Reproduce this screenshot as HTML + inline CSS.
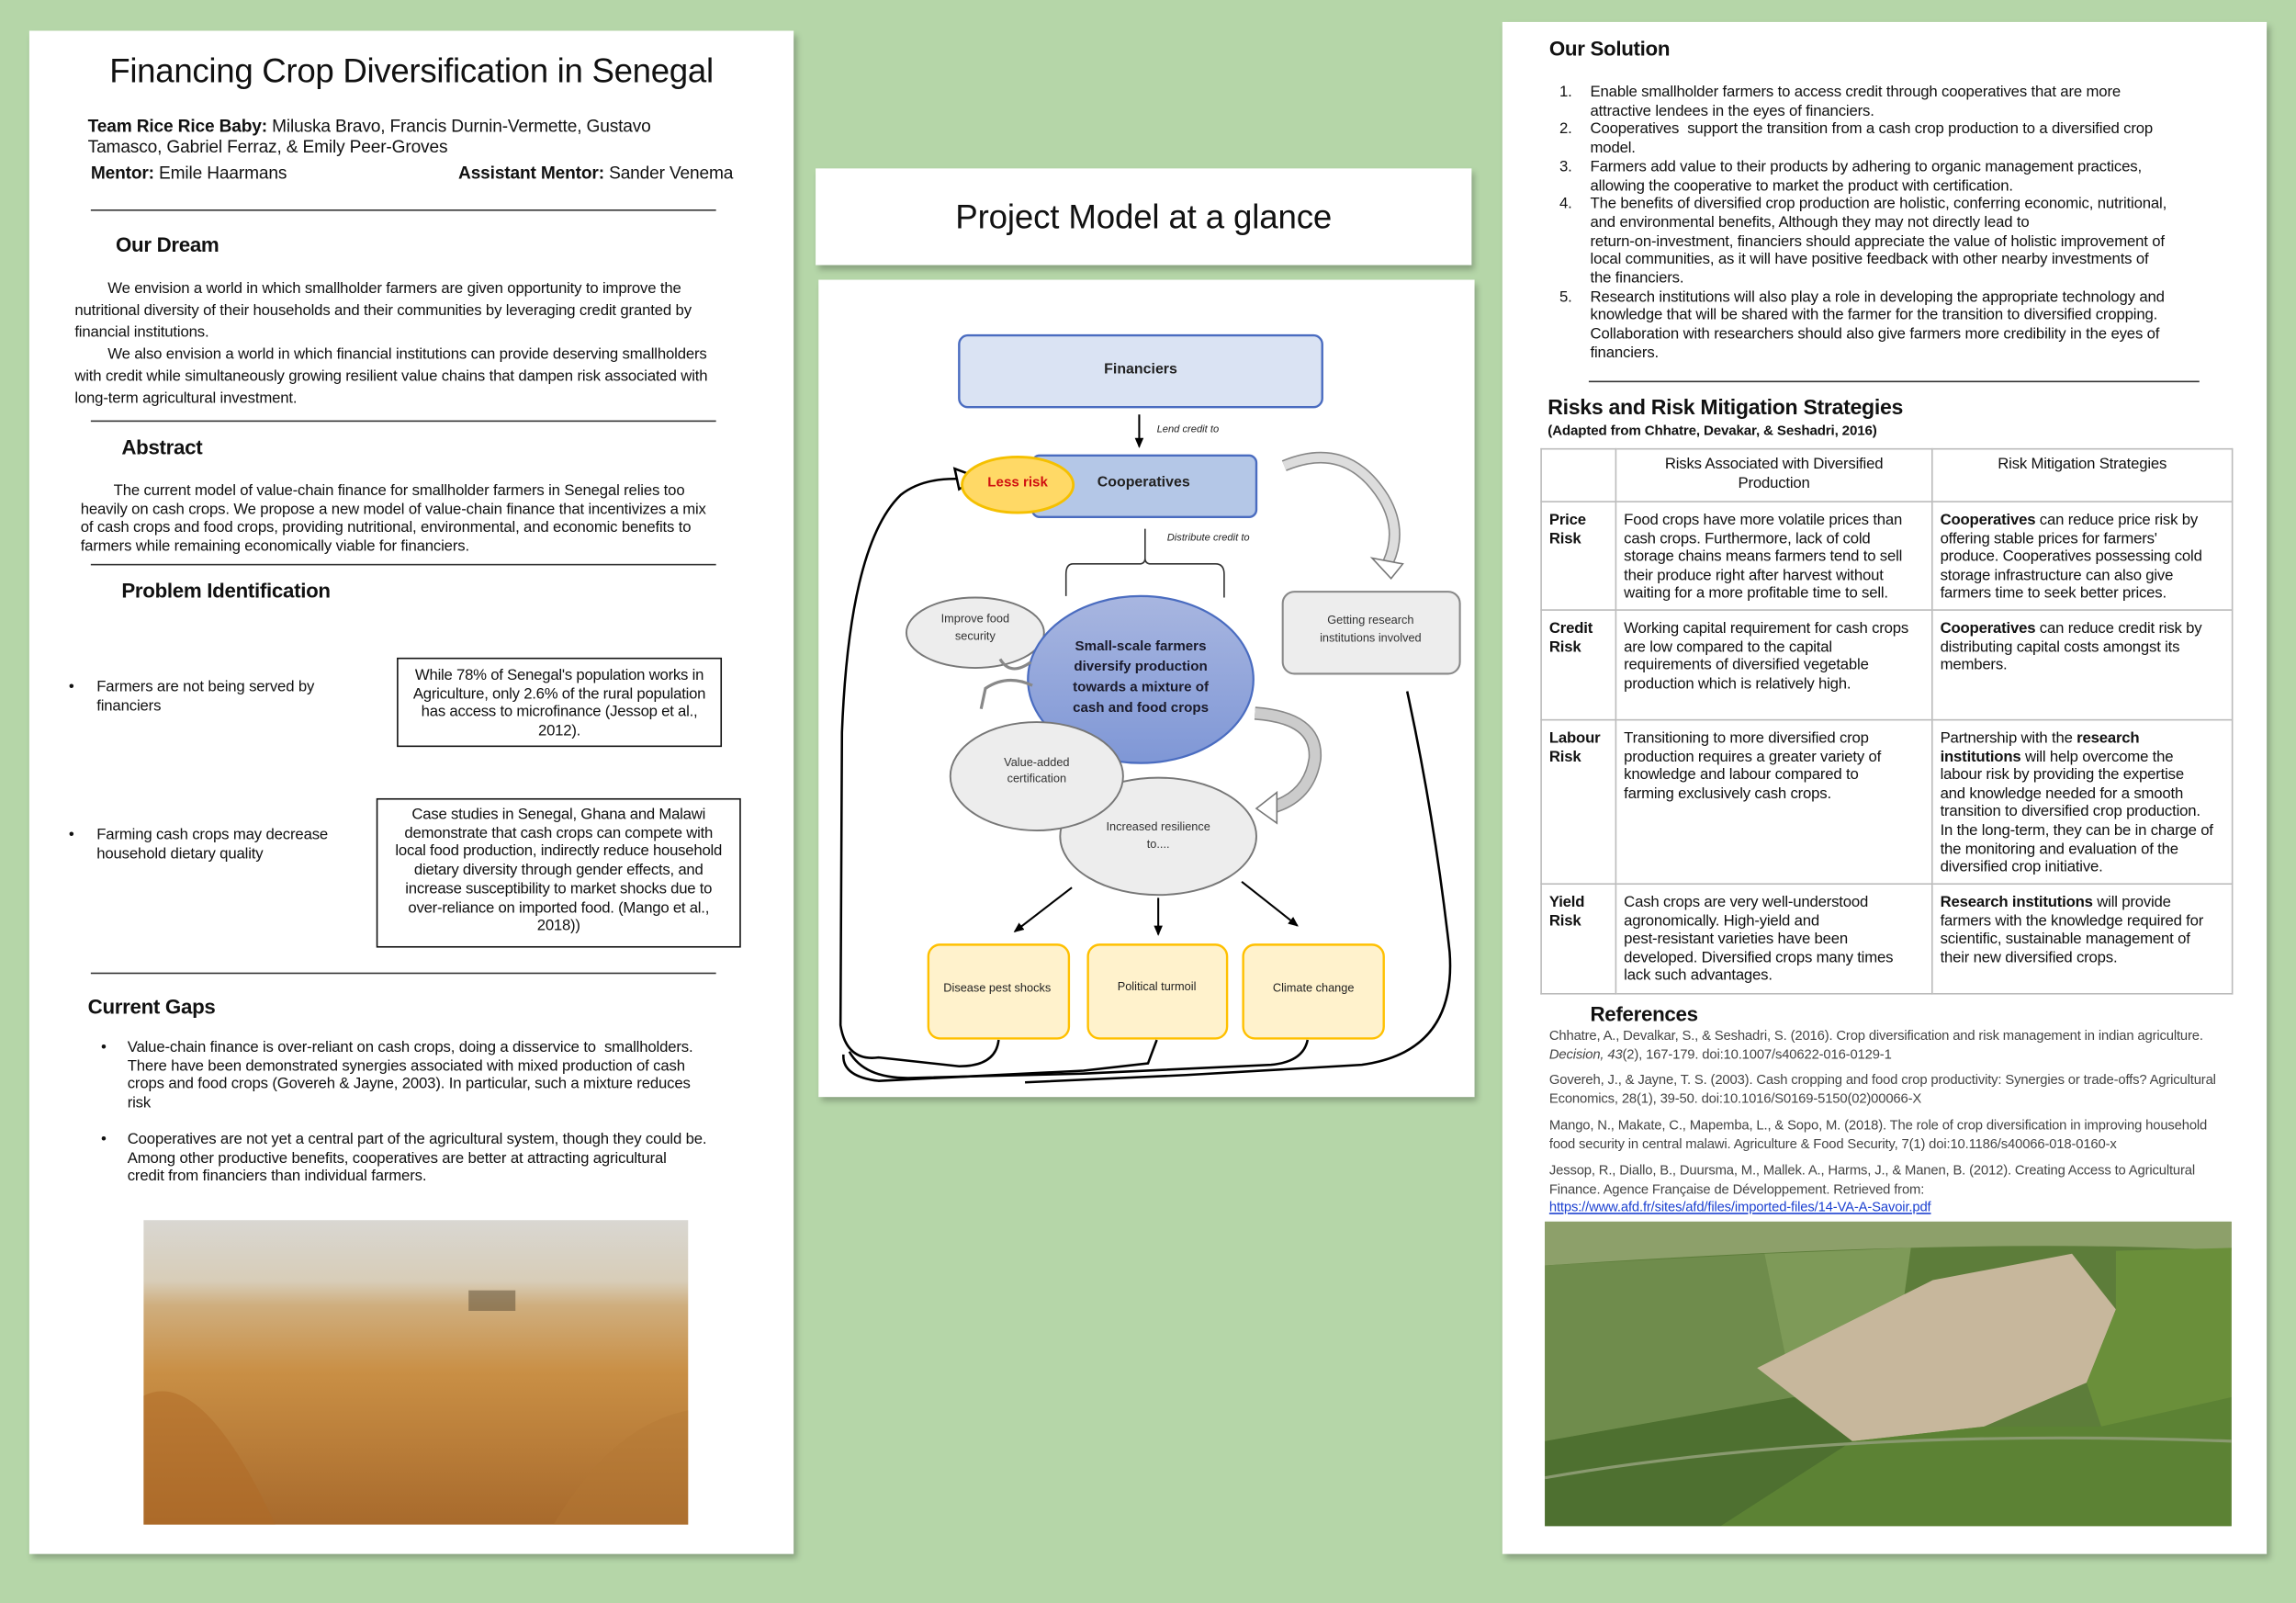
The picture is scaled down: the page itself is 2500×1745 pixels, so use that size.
<!DOCTYPE html>
<html><head><meta charset="utf-8"><style>
html,body{margin:0;padding:0;width:2500px;height:1745px;overflow:hidden;background:#b5d6a8}
#s{position:absolute;left:0;top:0;width:1568px;height:1094px;transform:scale(1.59439);transform-origin:0 0;font-family:"Liberation Sans",sans-serif;color:#111}
.p{position:absolute;background:#fff;box-shadow:2px 3px 4px rgba(0,0,0,.25)}
.t{position:absolute;white-space:nowrap;font-size:10.5px;letter-spacing:-0.1px;line-height:12.7px}
.h{position:absolute;white-space:nowrap;font-weight:bold;font-size:14px;letter-spacing:-0.2px}
.hr{position:absolute;height:1px;background:#333}
.box{position:absolute;border:1.3px solid #111;text-align:center;white-space:nowrap;font-size:10.5px;letter-spacing:-0.15px;line-height:12.7px;box-sizing:border-box}
table{position:absolute;border-collapse:collapse;font-size:10.5px;letter-spacing:-0.12px;line-height:12.6px;table-layout:fixed}
td{border:1px solid #bbb;vertical-align:top;padding:6px 5px 0 5px;white-space:nowrap;overflow:hidden;box-sizing:border-box}
.r{position:absolute;white-space:nowrap;font-size:9.3px;letter-spacing:-0.1px;line-height:12.5px;color:#444}
</style></head><body><div id="s">

<div class="p" style="left:20px;top:21px;width:522px;height:1040px"></div>
<div class="p" style="left:557px;top:115px;width:448px;height:66px"></div>
<div class="p" style="left:559px;top:191px;width:448px;height:558px"></div>
<div class="p" style="left:1026px;top:15px;width:522px;height:1046px"></div>

<!-- LEFT -->
<div style="position:absolute;left:20px;width:522px;top:35px;text-align:center;font-size:23px;letter-spacing:-0.2px">Financing Crop Diversification in Senegal</div>
<div class="t" style="left:60px;top:79px;font-size:12px;line-height:14px"><b>Team Rice Rice Baby:</b> Miluska Bravo, Francis Durnin-Vermette, Gustavo<br>Tamasco, Gabriel Ferraz, &amp; Emily Peer-Groves</div>
<div class="t" style="left:62px;top:112px;font-size:12px"><b>Mentor:</b> Emile Haarmans</div>
<div class="t" style="left:313px;top:112px;font-size:12px"><b>Assistant Mentor:</b> Sander Venema</div>
<div class="hr" style="left:62px;top:143px;width:427px"></div>
<div class="h" style="left:79px;top:159px">Our Dream</div>
<div class="t" style="left:51px;top:190px;line-height:15px">&nbsp;&nbsp;&nbsp;&nbsp;&nbsp;&nbsp;&nbsp;&nbsp;We envision a world in which smallholder farmers are given opportunity to improve the<br>nutritional diversity of their households and their communities by leveraging credit granted by<br>financial institutions.<br>&nbsp;&nbsp;&nbsp;&nbsp;&nbsp;&nbsp;&nbsp;&nbsp;We also envision a world in which financial institutions can provide deserving smallholders<br>with credit while simultaneously growing resilient value chains that dampen risk associated with<br>long-term agricultural investment.</div>
<div class="hr" style="left:62px;top:287px;width:427px"></div>
<div class="h" style="left:83px;top:297px">Abstract</div>
<div class="t" style="left:55px;top:329px">&nbsp;&nbsp;&nbsp;&nbsp;&nbsp;&nbsp;&nbsp;&nbsp;The current model of value-chain finance for smallholder farmers in Senegal relies too<br>heavily on cash crops. We propose a new model of value-chain finance that incentivizes a mix<br>of cash crops and food crops, providing nutritional, environmental, and economic benefits to<br>farmers while remaining economically viable for financiers.</div>
<div class="hr" style="left:62px;top:385px;width:427px"></div>
<div class="h" style="left:83px;top:395px">Problem Identification</div>
<div class="t" style="left:47px;top:463px">•</div>
<div class="t" style="left:66px;top:463px">Farmers are not being served by<br>financiers</div>
<div class="box" style="left:271px;top:449px;width:222px;height:61px;padding-top:5px">While 78% of Senegal's population works in<br>Agriculture, only 2.6% of the rural population<br>has access to microfinance (Jessop et al.,<br>2012).</div>
<div class="t" style="left:47px;top:564px">•</div>
<div class="t" style="left:66px;top:564px">Farming cash crops may decrease<br>household dietary quality</div>
<div class="box" style="left:257px;top:545px;width:249px;height:102px;padding-top:4px">Case studies in Senegal, Ghana and Malawi<br>demonstrate that cash crops can compete with<br>local food production, indirectly reduce household<br>dietary diversity through gender effects, and<br>increase susceptibility to market shocks due to<br>over-reliance on imported food. (Mango et al.,<br>2018))</div>
<div class="hr" style="left:62px;top:664px;width:427px"></div>
<div class="h" style="left:60px;top:679px">Current Gaps</div>
<div class="t" style="left:69px;top:709px">•</div>
<div class="t" style="left:87px;top:709px">Value-chain finance is over-reliant on cash crops, doing a disservice to&nbsp; smallholders.<br>There have been demonstrated synergies associated with mixed production of cash<br>crops and food crops (Govereh &amp; Jayne, 2003). In particular, such a mixture reduces<br>risk</div>
<div class="t" style="left:69px;top:772px">•</div>
<div class="t" style="left:87px;top:772px">Cooperatives are not yet a central part of the agricultural system, though they could be.<br>Among other productive benefits, cooperatives are better at attracting agricultural<br>credit from financiers than individual farmers.</div>
<svg style="position:absolute;left:98px;top:833px" width="372" height="208">
<defs><linearGradient id="w" x1="0" y1="0" x2="0" y2="1"><stop offset="0" stop-color="#d9d7d2"/><stop offset=".2" stop-color="#d8cdb8"/><stop offset=".28" stop-color="#cfae7e"/><stop offset=".5" stop-color="#c98f45"/><stop offset="1" stop-color="#a86a2c"/></linearGradient></defs>
<rect width="372" height="208" fill="url(#w)"/>
<rect x="222" y="48" width="32" height="14" fill="#6a5a40" opacity=".6"/>
<path d="M0 120 Q40 100 90 208 L0 208Z" fill="#b06a25" opacity=".5"/>
<path d="M280 208 Q320 140 372 130 L372 208Z" fill="#b57735" opacity=".4"/>
</svg>

<!-- MIDDLE -->
<div style="position:absolute;left:557px;width:448px;top:135px;text-align:center;font-size:23px;letter-spacing:-0.1px">Project Model at a glance</div>
<svg style="position:absolute;left:0;top:0" width="1568" height="1094" font-family="Liberation Sans, sans-serif">
<defs>
<linearGradient id="bg" x1="0" y1="0" x2="0" y2="1"><stop offset="0" stop-color="#a8b6e0"/><stop offset="1" stop-color="#7f97d6"/></linearGradient>
<marker id="ah" markerWidth="8" markerHeight="8" refX="6" refY="4" orient="auto" markerUnits="userSpaceOnUse"><path d="M0,1 L7,4 L0,7Z" fill="#000"/></marker>
</defs>
<path d="M682 710 Q680 728 655 728 L600 722 Q578 725 574 700 L575 500 Q580 372 615 338 Q630 326 656 327" fill="none" stroke="#000" stroke-width="1.6"/>
<path d="M790 710 L784 726 L740 731 L600 738 Q575 735 576 720" fill="none" stroke="#000" stroke-width="1.6"/>
<path d="M893 710 Q890 725 868 727 L740 733 L620 736 Q590 736 580 718" fill="none" stroke="#000" stroke-width="1.6"/>
<path d="M961 472 Q980 560 990 650 Q995 718 930 727 L810 734 L700 739" fill="none" stroke="#000" stroke-width="1.6"/>
<path d="M652 320 L668 326 L655 334 Z" fill="#fff" stroke="#000" stroke-width="1.6"/>
<rect x="655" y="229" width="248" height="49" rx="6" fill="#dae3f3" stroke="#4a6cc0" stroke-width="1.5"/>
<text x="779" y="255" font-size="10" font-weight="bold" text-anchor="middle" fill="#222">Financiers</text>
<line x1="778" y1="283" x2="778" y2="305" stroke="#000" stroke-width="1.3" marker-end="url(#ah)"/>
<text x="790" y="295" font-size="7" font-style="italic" fill="#222">Lend credit to</text>
<rect x="705" y="311" width="153" height="42" rx="5" fill="#b4c7e7" stroke="#4a6cc0" stroke-width="1.5"/>
<text x="781" y="332" font-size="10" font-weight="bold" text-anchor="middle" fill="#222">Cooperatives</text>
<ellipse cx="695" cy="331" rx="38" ry="19" fill="#ffd966" stroke="#f5c000" stroke-width="1.8"/>
<text x="695" y="332" font-size="9.5" font-weight="bold" text-anchor="middle" fill="#d01010">Less risk</text>
<text x="797" y="369" font-size="7" font-style="italic" fill="#222">Distribute credit to</text>
<path d="M782 361 L782 381 Q782 385 778 385 L733 385 Q728 385 728 392 L728 407 M782 381 Q782 385 786 385 L830 385 Q836 385 836 392 L836 408" fill="none" stroke="#333" stroke-width="1"/>
<path d="M877 318 Q920 300 945 340 Q958 362 948 384" fill="none" stroke="#888" stroke-width="8"/>
<path d="M877 318 Q920 300 945 340 Q958 362 948 384" fill="none" stroke="#ddd" stroke-width="6"/>
<path d="M937 381 L950 395 L958 385 Z" fill="#fff" stroke="#777"/>
<rect x="876" y="404" width="121" height="56" rx="8" fill="#ededed" stroke="#888" stroke-width="1.3"/>
<text x="936" y="426" font-size="8" text-anchor="middle" fill="#333">Getting research</text>
<text x="936" y="438" font-size="8" text-anchor="middle" fill="#333">institutions involved</text>
<ellipse cx="666" cy="432" rx="47" ry="24" fill="#ededed" stroke="#777" stroke-width="1.2"/>
<text x="666" y="425" font-size="8" text-anchor="middle" fill="#333">Improve food</text>
<text x="666" y="437" font-size="8" text-anchor="middle" fill="#333">security</text>
<ellipse cx="779" cy="464" rx="77" ry="57" fill="url(#bg)" stroke="#4a6cc0" stroke-width="1.4"/>
<text x="779" y="444" font-size="9.5" font-weight="bold" text-anchor="middle" fill="#1a1a2a">Small-scale farmers</text>
<text x="779" y="458" font-size="9.5" font-weight="bold" text-anchor="middle" fill="#1a1a2a">diversify production</text>
<text x="779" y="472" font-size="9.5" font-weight="bold" text-anchor="middle" fill="#1a1a2a">towards a mixture of</text>
<text x="779" y="486" font-size="9.5" font-weight="bold" text-anchor="middle" fill="#1a1a2a">cash and food crops</text>
<path d="M704 452 Q690 462 683 450 M705 468 Q688 460 673 470 L670 484" fill="none" stroke="#888" stroke-width="2"/>
<path d="M857 487 Q900 490 898 518 Q894 545 866 552" fill="none" stroke="#888" stroke-width="9"/>
<path d="M857 487 Q900 490 898 518 Q894 545 866 552" fill="none" stroke="#ccc" stroke-width="7"/>
<path d="M872 541 L858 552 L872 562 Z" fill="#fff" stroke="#777"/>
<ellipse cx="791" cy="571" rx="67" ry="40" fill="#ededed" stroke="#777" stroke-width="1.2"/>
<text x="791" y="567" font-size="8" text-anchor="middle" fill="#333">Increased resilience</text>
<text x="791" y="579" font-size="8" text-anchor="middle" fill="#333">to....</text>
<ellipse cx="708" cy="530" rx="59" ry="37" fill="#ededed" stroke="#777" stroke-width="1.2"/>
<text x="708" y="523" font-size="8" text-anchor="middle" fill="#333">Value-added</text>
<text x="708" y="534" font-size="8" text-anchor="middle" fill="#333">certification</text>
<line x1="732" y1="606" x2="693" y2="636" stroke="#000" stroke-width="1.3" marker-end="url(#ah)"/>
<line x1="791" y1="613" x2="791" y2="638" stroke="#000" stroke-width="1.3" marker-end="url(#ah)"/>
<line x1="848" y1="602" x2="886" y2="632" stroke="#000" stroke-width="1.3" marker-end="url(#ah)"/>
<rect x="634" y="645" width="96" height="64" rx="8" fill="#fff2cc" stroke="#ffc000" stroke-width="1.5"/>
<rect x="743" y="645" width="95" height="64" rx="8" fill="#fff2cc" stroke="#ffc000" stroke-width="1.5"/>
<rect x="849" y="645" width="96" height="64" rx="8" fill="#fff2cc" stroke="#ffc000" stroke-width="1.5"/>
<text x="681" y="677" font-size="8" text-anchor="middle" fill="#222">Disease pest shocks</text>
<text x="790" y="676" font-size="8" text-anchor="middle" fill="#222">Political turmoil</text>
<text x="897" y="677" font-size="8" text-anchor="middle" fill="#222">Climate change</text>
</svg>

<!-- RIGHT -->
<div class="h" style="left:1058px;top:25px">Our Solution</div>
<div class="t" style="left:1065px;top:57px">1.<br><br>2.<br><br>3.<br><br>4.<br><br><br><br><br>5.</div>
<div class="t" style="left:1086px;top:57px">Enable smallholder farmers to access credit through cooperatives that are more<br>attractive lendees in the eyes of financiers.<br>Cooperatives&nbsp; support the transition from a cash crop production to a diversified crop<br>model.<br>Farmers add value to their products by adhering to organic management practices,<br>allowing the cooperative to market the product with certification.<br>The benefits of diversified crop production are holistic, conferring economic, nutritional,<br>and environmental benefits, Although they may not directly lead to<br>return-on-investment, financiers should appreciate the value of holistic improvement of<br>local communities, as it will have positive feedback with other nearby investments of<br>the financiers.<br>Research institutions will also play a role in developing the appropriate technology and<br>knowledge that will be shared with the farmer for the transition to diversified cropping.<br>Collaboration with researchers should also give farmers more credibility in the eyes of<br>financiers.</div>
<div class="hr" style="left:1085px;top:260px;width:417px"></div>
<div class="h" style="left:1057px;top:271px;font-size:14.5px">Risks and Risk Mitigation Strategies</div>
<div class="t" style="left:1057px;top:289px;font-size:9.5px;font-weight:bold">(Adapted from Chhatre, Devakar, &amp; Seshadri, 2016)</div>
<table style="left:1052px;top:306px;width:472px">
<colgroup><col style="width:51px"><col style="width:216px"><col style="width:205px"></colgroup>
<tr style="height:36px"><td style="padding-top:4px"></td><td style="text-align:center;padding-top:4px">Risks Associated with Diversified<br>Production</td><td style="text-align:center;padding-top:4px">Risk Mitigation Strategies</td></tr>
<tr style="height:74px"><td><b>Price<br>Risk</b></td><td>Food crops have more volatile prices than<br>cash crops. Furthermore, lack of cold<br>storage chains means farmers tend to sell<br>their produce right after harvest without<br>waiting for a more profitable time to sell.</td><td><b>Cooperatives</b> can reduce price risk by<br>offering stable prices for farmers'<br>produce. Cooperatives possessing cold<br>storage infrastructure can also give<br>farmers time to seek better prices.</td></tr>
<tr style="height:75px"><td><b>Credit<br>Risk</b></td><td>Working capital requirement for cash crops<br>are low compared to the capital<br>requirements of diversified vegetable<br>production which is relatively high.</td><td><b>Cooperatives</b> can reduce credit risk by<br>distributing capital costs amongst its<br>members.</td></tr>
<tr style="height:112px"><td><b>Labour<br>Risk</b></td><td>Transitioning to more diversified crop<br>production requires a greater variety of<br>knowledge and labour compared to<br>farming exclusively cash crops.</td><td>Partnership with the <b>research<br>institutions</b> will help overcome the<br>labour risk by providing the expertise<br>and knowledge needed for a smooth<br>transition to diversified crop production.<br>In the long-term, they can be in charge of<br>the monitoring and evaluation of the<br>diversified crop initiative.</td></tr>
<tr style="height:75px"><td><b>Yield<br>Risk</b></td><td>Cash crops are very well-understood<br>agronomically. High-yield and<br>pest-resistant varieties have been<br>developed. Diversified crops many times<br>lack such advantages.</td><td><b>Research institutions</b> will provide<br>farmers with the knowledge required for<br>scientific, sustainable management of<br>their new diversified crops.</td></tr>
</table>
<div class="h" style="left:1086px;top:684px">References</div>
<div class="r" style="left:1058px;top:701px">Chhatre, A., Devalkar, S., &amp; Seshadri, S. (2016). Crop diversification and risk management in indian agriculture.<br><i>Decision, 43</i>(2), 167-179. doi:10.1007/s40622-016-0129-1</div>
<div class="r" style="left:1058px;top:731px">Govereh, J., &amp; Jayne, T. S. (2003). Cash cropping and food crop productivity: Synergies or trade-offs? Agricultural<br>Economics, 28(1), 39-50. doi:10.1016/S0169-5150(02)00066-X</div>
<div class="r" style="left:1058px;top:762px">Mango, N., Makate, C., Mapemba, L., &amp; Sopo, M. (2018). The role of crop diversification in improving household<br>food security in central malawi. Agriculture &amp; Food Security, 7(1) doi:10.1186/s40066-018-0160-x</div>
<div class="r" style="left:1058px;top:793px">Jessop, R., Diallo, B., Duursma, M., Mallek. A., Harms, J., &amp; Manen, B. (2012). Creating Access to Agricultural<br>Finance. Agence Française de Développement. Retrieved from:<br><span style="color:#1a3fd0;text-decoration:underline">https://www.afd.fr/sites/afd/files/imported-files/14-VA-A-Savoir.pdf</span></div>
<svg style="position:absolute;left:1055px;top:834px" width="469" height="208">
<rect width="469" height="208" fill="#5d7d3a"/>
<path d="M0 0 H469 V20 Q300 10 0 30Z" fill="#8da06a"/>
<path d="M0 30 L150 22 L170 120 L0 150Z" fill="#6f8c4c"/>
<path d="M150 22 L250 18 L240 90 L170 120Z" fill="#7e9a58"/>
<path d="M145 100 L265 40 L360 22 L390 60 L370 110 L300 140 L210 150Z" fill="#c7b79c"/>
<path d="M390 20 L469 18 L469 120 L380 140 L370 110 L390 60Z" fill="#6a8f3a"/>
<path d="M0 150 L170 120 L210 150 L120 208 L0 208Z" fill="#4e7030"/>
<path d="M210 150 L300 140 L380 140 L469 120 L469 208 L120 208Z" fill="#5c8234"/>
<path d="M0 175 Q200 140 469 150" fill="none" stroke="#8a9a70" stroke-width="2"/>
</svg>
</div></body></html>
